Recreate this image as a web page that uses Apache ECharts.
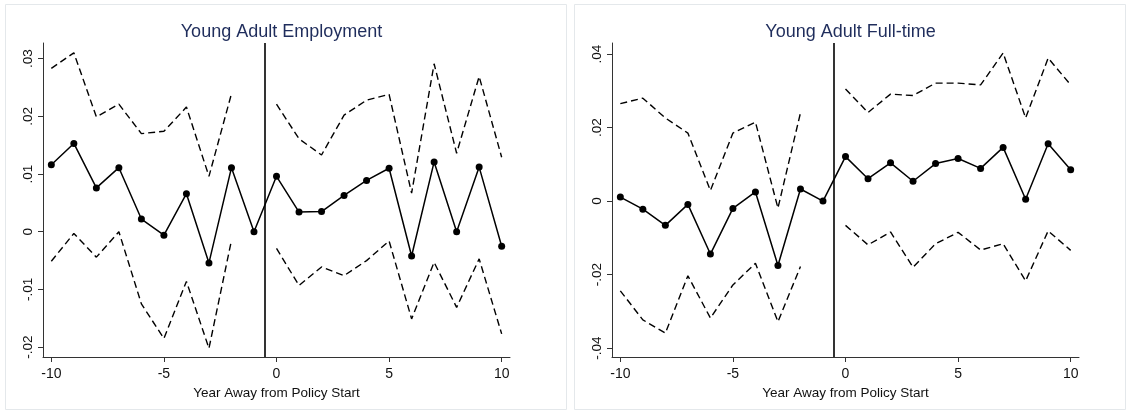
<!DOCTYPE html>
<html>
<head>
<meta charset="utf-8">
<script src="https://cdn.jsdelivr.net/npm/echarts@6/dist/echarts.min.js"></script>
<style>
  html, body { margin: 0; padding: 0; background: #ffffff; }
  #chart { width: 1128px; height: 412px; }
</style>
</head>
<body>
<div id="chart"></div>
<script>
// Event-study estimates with 95% confidence bands, by years relative to policy start
const years = [-10, -9, -8, -7, -6, -5, -4, -3, -2, -1, 0, 1, 2, 3, 4, 5, 6, 7, 8, 9, 10];
const xTicks = [-10, -5, 0, 5, 10];

// Young adult employment
const empTitle = 'Young Adult Employment';
const empEst   = [0.0116, 0.0153, 0.0076, 0.0111, 0.0022, -0.0006, 0.0066, -0.0054, 0.0111, 0.0000,
                  0.0096, 0.0034, 0.0035, 0.0063, 0.0089, 0.0110, -0.0042, 0.0121, 0.0000, 0.0112, -0.0025];
const empUpper = [0.0283, 0.0310, 0.0199, 0.0221, 0.0170, 0.0174, 0.0216, 0.0096, 0.0239, null,
                  0.0221, 0.0161, 0.0133, 0.0202, 0.0228, 0.0238, 0.0067, 0.0291, 0.0136, 0.0269, 0.0129];
const empLower = [-0.0051, -0.0003, -0.0044, 0.0000, -0.0125, -0.0185, -0.0086, -0.0202, -0.0015, null,
                  -0.0029, -0.0093, -0.0061, -0.0076, -0.0050, -0.0016, -0.0151, -0.0053, -0.0131, -0.0047, -0.0177];
const empTicks = [-0.02, -0.01, 0, 0.01, 0.02, 0.03];

// Young adult full-time
const ftTitle = 'Young Adult Full-time';
const ftEst   = [0.0011, -0.0022, -0.0066, -0.0009, -0.0144, -0.0020, 0.0025, -0.0175, 0.0033, 0.0000,
                 0.0121, 0.0061, 0.0104, 0.0054, 0.0102, 0.0116, 0.0089, 0.0146, 0.0005, 0.0156, 0.0085];
const ftUpper = [0.0265, 0.0280, 0.0226, 0.0185, 0.0029, 0.0185, 0.0215, -0.0019, 0.0240, null,
                 0.0305, 0.0241, 0.0291, 0.0287, 0.0321, 0.0321, 0.0316, 0.0403, 0.0226, 0.0389, 0.0316];
const ftLower = [-0.0244, -0.0323, -0.0359, -0.0203, -0.0318, -0.0228, -0.0169, -0.0328, -0.0178, null,
                 -0.0066, -0.0119, -0.0084, -0.0180, -0.0116, -0.0085, -0.0133, -0.0116, -0.0217, -0.0081, -0.0134];
const ftTicks = [-0.04, -0.02, 0, 0.02, 0.04];

const policyLine = -0.5;
const xLabel = 'Year Away from Policy Start';

const FONT = '"Liberation Sans", Arial, sans-serif';
const INK = '#111111';

function pairs(vals) {
  return years.map((x, i) => [x, vals[i]]);
}

function fmtY(v) {
  if (Math.abs(v) < 1e-9) return '0';
  const s = Math.abs(v).toFixed(2).replace(/^0/, '');
  return (v < 0 ? '-' : '') + s;
}

const panels = [
  { title: empTitle, est: empEst, up: empUpper, lo: empLower, ticks: empTicks, ymin: -0.0217, ymax: 0.0327, left: 43 },
  { title: ftTitle,  est: ftEst,  up: ftUpper,  lo: ftLower,  ticks: ftTicks,  ymin: -0.0424, ymax: 0.0430, left: 612 }
];

const grid = [], xAxis = [], yAxis = [], series = [], title = [];

panels.forEach((p, k) => {
  grid.push({ left: p.left, top: 43, width: 467, height: 314 });
  title.push({
    text: p.title,
    left: p.left + 233.5,
    top: 18,
    textAlign: 'center',
    textStyle: { fontFamily: FONT, fontSize: 18, fontWeight: 'normal', color: '#1f2d5c' }
  });
  xAxis.push({
    type: 'value', gridIndex: k, min: -10.37, max: 10.37,
    name: xLabel, nameLocation: 'middle', nameGap: 24,
    nameTextStyle: { fontFamily: FONT, fontSize: 13.5, color: INK },
    axisLine: { show: true, onZero: false, lineStyle: { color: '#333333', width: 1 } },
    axisTick: { show: true, inside: false, length: 5, customValues: xTicks, lineStyle: { color: '#333333' } },
    axisLabel: { customValues: xTicks, margin: 10, fontFamily: FONT, fontSize: 14, color: INK },
    splitLine: { show: false }
  });
  yAxis.push({
    type: 'value', gridIndex: k, min: p.ymin, max: p.ymax,
    axisLine: { show: true, onZero: false, lineStyle: { color: '#333333', width: 1 } },
    axisTick: { show: true, inside: false, length: 5, customValues: p.ticks, lineStyle: { color: '#333333' } },
    axisLabel: { customValues: p.ticks, rotate: 90, margin: 8, fontFamily: FONT, fontSize: 13.5, color: INK, formatter: fmtY },
    splitLine: { show: false }
  });
  const dashed = { color: '#000000', width: 1.4, type: [7, 4] };
  series.push({
    type: 'line', xAxisIndex: k, yAxisIndex: k, data: pairs(p.up),
    showSymbol: false, symbol: 'none', lineStyle: dashed, silent: true, z: 2
  });
  series.push({
    type: 'line', xAxisIndex: k, yAxisIndex: k, data: pairs(p.lo),
    showSymbol: false, symbol: 'none', lineStyle: dashed, silent: true, z: 2
  });
  series.push({
    type: 'line', xAxisIndex: k, yAxisIndex: k, data: pairs(p.est),
    symbol: 'circle', symbolSize: 7, itemStyle: { color: '#000000' },
    lineStyle: { color: '#000000', width: 1.5 }, silent: true, z: 3,
    markLine: {
      silent: true, symbol: 'none', animation: false,
      label: { show: false },
      lineStyle: { color: '#000000', width: 1.6, type: 'solid' },
      data: [{ xAxis: policyLine }]
    }
  });
});

const chart = echarts.init(document.getElementById('chart'), null, { renderer: 'canvas' });
chart.setOption({
  backgroundColor: '#ffffff',
  animation: false,
  title: title,
  grid: grid,
  xAxis: xAxis,
  yAxis: yAxis,
  series: series,
  graphic: [
    { type: 'rect', shape: { x: 5.5, y: 4.5, width: 561, height: 405 }, style: { fill: 'none', stroke: '#e4e8eb', lineWidth: 1 }, silent: true },
    { type: 'rect', shape: { x: 574.5, y: 4.5, width: 551, height: 405 }, style: { fill: 'none', stroke: '#e4e8eb', lineWidth: 1 }, silent: true }
  ]
});
</script>
</body>
</html>
